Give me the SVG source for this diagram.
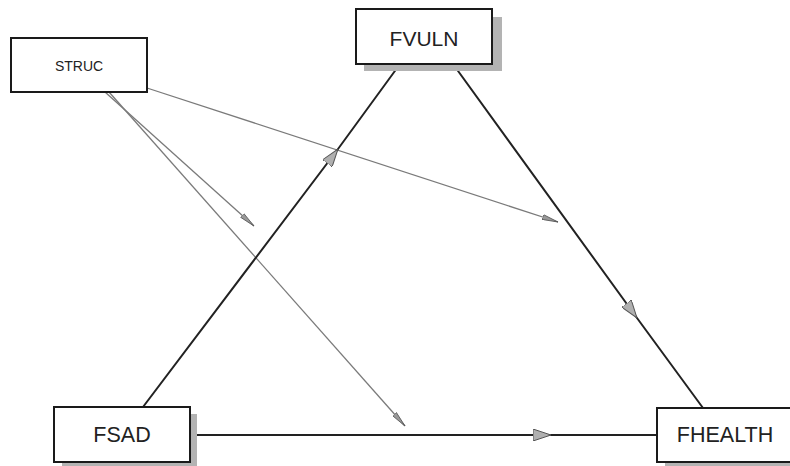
<svg xmlns="http://www.w3.org/2000/svg" width="790" height="466" viewBox="0 0 790 466">
  <style>
    .box { fill: #ffffff; stroke: #1a1a1a; stroke-width: 2; }
    .shadow { fill: #b3b3b3; }
    .label { font-family: "Liberation Sans", Arial, sans-serif; fill: #222; text-anchor: middle; dominant-baseline: central; }
    .main { fill: none; stroke: #222; stroke-width: 2; }
    .thin { fill: none; stroke: #7a7a7a; stroke-width: 1.3; }
  </style>
  <defs>
    <marker id="bigArrow" viewBox="0 0 18 12" refX="18" refY="6" markerWidth="18" markerHeight="12" markerUnits="userSpaceOnUse" orient="auto">
      <path d="M0,0 L18,6 L0,12 Z" fill="#b0b0b0" stroke="#555" stroke-width="1"/>
    </marker>
    <marker id="smallArrow" viewBox="0 0 16 6" refX="16" refY="3" markerWidth="16" markerHeight="6" markerUnits="userSpaceOnUse" orient="auto">
      <path d="M0,0.5 L16,3 L0,5.5 Z" fill="#999" stroke="#555" stroke-width="0.8"/>
    </marker>
  </defs>

  <rect width="790" height="466" fill="#ffffff"/>

  <g id="connectors">
    <!-- structural effects -->
    <path class="thin" d="M147,88 L558,222" marker-end="url(#smallArrow)"/>
    <path class="thin" d="M105,92 L254,226" marker-end="url(#smallArrow)"/>
    <path class="thin" d="M109,92 L405,426" marker-end="url(#smallArrow)"/>
    <!-- main paths -->
    <polyline class="main" points="143,407 338,149 400,64" marker-mid="url(#bigArrow)"/>
    <polyline class="main" points="453,64 637,318 703,408" marker-mid="url(#bigArrow)"/>
    <polyline class="main" points="197,435 551,435 657,435" marker-mid="url(#bigArrow)"/>
  </g>

  <g id="struc">
    <rect class="box" x="11" y="38" width="136" height="54"/>
    <text class="label" x="79" y="66" font-size="14">STRUC</text>
  </g>

  <g id="fvuln">
    <rect class="shadow" x="364" y="17" width="138" height="54"/>
    <rect class="box" x="356" y="9" width="136" height="55"/>
    <text class="label" x="424" y="38" font-size="21">FVULN</text>
  </g>

  <g id="fsad">
    <rect class="shadow" x="62" y="414" width="135" height="55"/>
    <rect class="box" x="54" y="407" width="136" height="55"/>
    <text class="label" x="122" y="435" font-size="21.5">FSAD</text>
  </g>

  <g id="fhealth">
    <rect class="shadow" x="665" y="415" width="136" height="55"/>
    <rect class="box" x="657" y="408" width="136" height="54"/>
    <text class="label" x="725" y="435" font-size="21.5">FHEALTH</text>
  </g>
</svg>
